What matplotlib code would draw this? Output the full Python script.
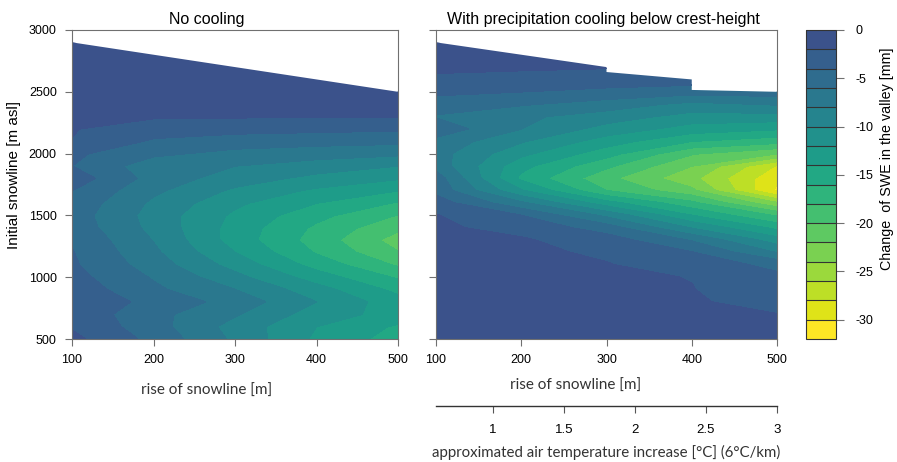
import numpy as np
import matplotlib
matplotlib.use("Agg")
import matplotlib.pyplot as plt
from matplotlib.patches import Polygon

plt.rcParams['font.family'] = ['Liberation Sans', 'DejaVu Sans']
plt.rcParams['axes.unicode_minus'] = False

# grid of the model runs
rise = [100, 200, 300, 400, 500]                     # rise of snowline [m]
snowline = [2900, 2800, 2700, 2600, 2500, 2400, 2300, 2200, 2100, 2000, 1900, 1800,
            1700, 1600, 1500, 1400, 1300, 1200, 1100, 1000, 900, 800, 700, 600, 500]

# change of SWE in the valley [mm], rows follow "snowline", columns follow "rise"
swe_nocool = [
    [-0.5, -0.5, -0.5, -0.5, -0.5],
    [-0.7, -0.6, -0.6, -0.5, -0.5],
    [-0.9, -0.8, -0.7, -0.7, -0.6],
    [-1.1, -1.0, -0.9, -0.9, -0.8],
    [-1.3, -1.2, -1.1, -1.1, -1.0],
    [-1.5, -1.4, -1.3, -1.3, -1.2],
    [-1.7, -1.8, -1.85, -1.9, -1.9],
    [-1.9, -3.0, -3.3, -3.5, -3.7],
    [-2.05, -4.3, -5.0, -5.3, -5.5],
    [-3.6, -5.6, -6.6, -7.1, -7.6],
    [-4.0, -7.2, -8.0, -9.0, -10.0],
    [-2.9, -6.8, -9.0, -10.6, -11.8],
    [-4.0, -7.6, -10.4, -12.4, -14.0],
    [-4.6, -8.4, -11.6, -14.0, -16.2],
    [-5.0, -8.8, -12.4, -15.4, -18.1],
    [-4.8, -8.6, -12.8, -16.4, -19.6],
    [-4.2, -8.1, -12.9, -16.9, -20.9],
    [-3.9, -7.6, -12.0, -16.2, -19.9],
    [-3.7, -7.0, -10.8, -14.8, -18.3],
    [-3.3, -6.2, -9.4, -13.0, -16.3],
    [-2.8, -5.6, -8.0, -11.2, -14.6],
    [-2.5, -4.6, -6.8, -10.0, -13.2],
    [-2.6, -5.4, -7.8, -11.0, -12.8],
    [-2.2, -5.2, -8.8, -12.0, -14.3],
    [-1.5, -4.6, -8.4, -12.4, -14.9],
]

swe_cool = [
    [-0.8, -0.8, -0.8, -0.8, -0.8],
    [-1.2, -1.3, -1.2, -1.2, -1.2],
    [-1.7, -1.8, -1.9, -1.9, -1.9],
    [-2.3, -2.5, -2.8, -3.0, -3.2],
    [-3.6, -4.0, -4.6, -5.2, -5.0],
    [-4.9, -5.8, -6.9, -8.6, -7.8],
    [-6.2, -7.6, -9.0, -10.8, -10.8],
    [-4.8, -8.0, -10.8, -12.9, -13.8],
    [-6.6, -9.8, -13.0, -16.0, -17.2],
    [-7.2, -11.5, -15.2, -19.8, -22.0],
    [-6.8, -13.4, -17.6, -22.0, -28.2],
    [-5.0, -14.5, -19.5, -23.5, -29.6],
    [-4.6, -11.8, -18.0, -21.5, -30.4],
    [-3.0, -7.6, -13.2, -17.5, -23.8],
    [-1.9, -4.0, -8.5, -14.0, -18.3],
    [-1.7, -2.6, -5.0, -10.2, -14.6],
    [-1.6, -1.8, -3.0, -6.2, -11.1],
    [-1.5, -1.6, -2.3, -3.9, -8.1],
    [-1.4, -1.5, -1.9, -3.0, -4.5],
    [-1.3, -1.4, -1.7, -2.05, -3.6],
    [-1.2, -1.3, -1.5, -1.95, -3.1],
    [-1.1, -1.2, -1.4, -1.85, -2.5],
    [-1.0, -1.1, -1.3, -1.5, -1.98],
    [-0.9, -1.0, -1.2, -1.3, -1.6],
    [-0.8, -0.9, -1.1, -1.2, -1.2],
]

# upper limit of the simulated domain
nocool_top_x = [100, 500]
nocool_top_y = [2900, 2500]
cool_top_x = [100, 300, 300, 400, 400, 500]
cool_top_y = [2900, 2700, 2660, 2600, 2515, 2500]

levels = np.arange(-32, 0.1, 2)
colors = [plt.cm.viridis(v) for v in np.linspace(1.0, 0.25, len(levels) - 1)]
frame_col = '#707070'
label_font = ['Lato', 'DejaVu Sans']


def draw_panel(ax, values, top_x, top_y, title, title_x):
    x = np.array(rise)
    y = np.array(snowline)[::-1]
    z = np.array(values)[::-1]
    cs = ax.contourf(x, y, z, levels=levels, colors=colors)
    cs.set_edgecolor('face')
    cs.set_linewidth(0.4)
    verts = [(top_x[0], 500)] + list(zip(top_x, top_y)) + [(top_x[-1], 500)]
    clip = Polygon(verts, closed=True, transform=ax.transData)
    cs.set_clip_path(clip)
    ax.set_xlim(100, 500)
    ax.set_ylim(500, 3000)
    ax.set_xticks([100, 200, 300, 400, 500])
    ax.set_yticks([500, 1000, 1500, 2000, 2500, 3000])
    for s in ax.spines.values():
        s.set_color(frame_col)
        s.set_linewidth(0.8)
    ax.tick_params(direction='out', length=5, width=0.8, color=frame_col,
                   labelsize=9, pad=6)
    ax.set_title(title, fontsize=11.5, pad=4, x=title_x)
    ax.set_xlabel('rise of snowline [m]', fontsize=11, family=label_font,
                  color='#333333')
    return cs


fig = plt.figure(figsize=(8.97, 4.62), dpi=100)
W, H = 897, 462
ax1 = fig.add_axes([72 / W, 1 - 339 / H, 326 / W, 309 / H])
ax2 = fig.add_axes([436 / W, 1 - 339 / H, 341 / W, 309 / H])
cax = fig.add_axes([806 / W, 1 - 339 / H, 30 / W, 309 / H])

cs = draw_panel(ax1, swe_nocool, nocool_top_x, nocool_top_y, 'No cooling', 0.414)
draw_panel(ax2, swe_cool, cool_top_x, cool_top_y,
           'With precipitation cooling below crest-height', 0.49)
ax2.tick_params(labelleft=False)
ax1.set_ylabel('Initial snowline [m asl]', fontsize=11)
ax1.yaxis.set_label_coords(-0.155, 0.53)
ax1.xaxis.set_label_coords(0.414, -0.145)
ax2.xaxis.set_label_coords(0.41, -0.128)

# air temperature axis (6 degC per km of snowline rise)
sec = ax2.secondary_xaxis(-0.217, functions=(lambda r: r * 0.006, lambda t: t / 0.006))
sec.set_xticks([1, 1.5, 2, 2.5, 3], labels=['1', '1.5', '2', '2.5', '3'])
sec.spines['bottom'].set_color('#333333')
sec.spines['bottom'].set_linewidth(1.0)
sec.tick_params(direction='out', length=5, width=0.8, color='#555555', labelsize=9.5, pad=8)
sec.set_xlabel('approximated air temperature increase [°C] (6°C/km)', fontsize=10.8,
               family=label_font, color='#333333', labelpad=6)

cb = fig.colorbar(cs, cax=cax, drawedges=True)
cb.set_ticks([0, -5, -10, -15, -20, -25, -30])
cb.outline.set_edgecolor('#333333')
cb.outline.set_linewidth(0.8)
cb.dividers.set_color('#333333')
cb.dividers.set_linewidth(0.8)
cax.tick_params(direction='out', length=6, width=0.8, color=frame_col, labelsize=9, pad=8)
cb.set_label('Change  of SWE in the valley [mm]', fontsize=10.3)
cax.yaxis.set_label_coords(2.45, 0.583)

fig.savefig('out.png', dpi=100)
